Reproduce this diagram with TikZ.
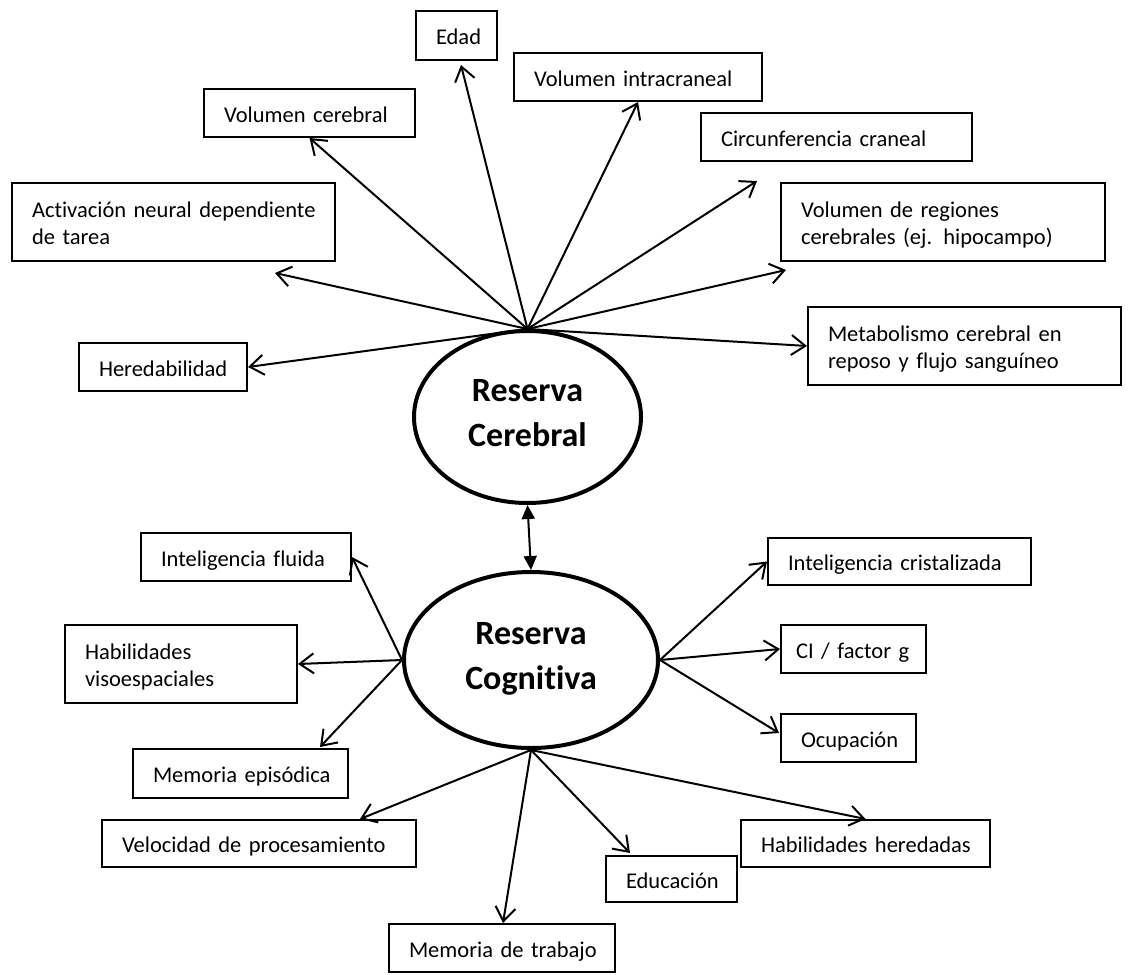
\documentclass[tikz,border=0pt]{standalone}
\usepackage{fontspec}
\setmainfont{Carlito}[Ligatures=NoCommon, WordSpace=0.7]
\usetikzlibrary{arrows.meta,shapes.geometric}
% one unbreakable line of box text
\newcommand\boxline[1]{\mbox{#1}}
\begin{document}
\begin{tikzpicture}[x=1pt,y=-1pt,
  box/.style={draw, rectangle, line width=2pt, inner xsep=20pt, inner ysep=0pt,
    align=left, font=\fontsize{22.5}{27.5}\selectfont,
    execute at begin node={\rule{0pt}{24pt}},
    execute at end node={\rule[-6pt]{0pt}{6pt}}},
  reserva/.style={draw, ellipse, line width=4pt, inner sep=0pt, align=center,
    font=\fontsize{34}{45}\selectfont\bfseries,
    execute at begin node={\rule{0pt}{34pt}},
    execute at end node={\rule[-9pt]{0pt}{9pt}}},
  spoke/.style={line width=2pt, -{Straight Barb[length=14pt,width=20pt]}},
  link/.style={line width=2pt,
    {Triangle[length=14pt,width=13pt]}-{Triangle[length=14pt,width=13pt]}}
]
\fill[white] (0,0) rectangle (1129,974);
\useasboundingbox (0,0) rectangle (1129,974);

% central constructs
\node[reserva, minimum width=227pt, minimum height=172pt] (rc) at (527.5,417) {Reserva\\Cerebral};
\node[reserva, minimum width=254pt, minimum height=176pt] (rk) at (531,660)   {Reserva\\Cognitiva};

% brain reserve measures
\node[box, minimum width=81pt,  minimum height=49pt, text width=41pt]  (edad)  at (456.5,35.5) {\boxline{Edad}};
\node[box, minimum width=248pt, minimum height=48pt, text width=208pt] (vint)  at (638,77)     {\boxline{Volumen intracraneal}};
\node[box, minimum width=271pt, minimum height=48pt, text width=231pt] (circ)  at (836.5,137)  {\boxline{Circunferencia craneal}};
\node[box, minimum width=211pt, minimum height=48pt, text width=171pt] (vcer)  at (309.5,113)  {\boxline{Volumen cerebral}};
\node[box, minimum width=323pt, minimum height=78pt, text width=283pt] (activ) at (173.5,222)  {\boxline{Activación neural dependiente}\\\boxline{de tarea}};
\node[box, minimum width=168pt, minimum height=48pt, text width=128pt] (hered) at (163,367)    {\boxline{Heredabilidad}};
\node[box, minimum width=324pt, minimum height=78pt, text width=284pt] (regio) at (943,222)    {\boxline{Volumen de regiones}\\\boxline{cerebrales (ej. hipocampo)}};
\node[box, minimum width=313pt, minimum height=78pt, text width=273pt] (metab) at (964.5,346)  {\boxline{Metabolismo cerebral en}\\\boxline{reposo y flujo sanguíneo}};

% cognitive reserve measures
\node[box, minimum width=210pt, minimum height=48pt, text width=170pt] (fluid) at (246,557)     {\boxline{Inteligencia fluida}};
\node[box, minimum width=232pt, minimum height=78pt, text width=192pt] (visuo) at (181,664)     {\boxline{Habilidades}\\\boxline{visoespaciales}};
\node[box, minimum width=215pt, minimum height=49pt, text width=175pt] (episo) at (240.5,773.5) {\boxline{Memoria episódica}};
\node[box, minimum width=314pt, minimum height=47pt, text width=274pt] (veloc) at (259,843.5)   {\boxline{Velocidad de procesamiento}};
\node[box, minimum width=226pt, minimum height=48pt, text width=186pt] (traba) at (502,948)     {\boxline{Memoria de trabajo}};
\node[box, minimum width=131pt, minimum height=46pt, text width=91pt]  (educa) at (671.5,879)   {\boxline{Educación}};
\node[box, minimum width=249pt, minimum height=47pt, text width=209pt] (habhe) at (865.5,843.5) {\boxline{Habilidades heredadas}};
\node[box, minimum width=263pt, minimum height=47pt, text width=223pt] (crist) at (899.5,561.5) {\boxline{Inteligencia cristalizada}};
\node[box, minimum width=145pt, minimum height=48pt, inner xsep=15pt, text width=115pt] (cifac) at (853.5,649) {\boxline{CI / factor g}};
\node[box, minimum width=135pt, minimum height=48pt, text width=95pt]  (ocupa) at (848.5,738)   {\boxline{Ocupación}};

% free arrow ends
\coordinate (tAct)  at (275,273);
\coordinate (tEdad) at (461,65);
\coordinate (tCirc) at (757,181);
\coordinate (tReg)  at (786,270);
\coordinate (tEpi)  at (320,747);
\coordinate (tVel)  at (360,819);
\coordinate (tTra)  at (503,923);
\coordinate (tEdu)  at (630,853);
\coordinate (tOcu)  at (779,733);

% spokes of Reserva Cerebral
\draw[spoke] (rc.north) -- (hered.east);
\draw[spoke] (rc.north) -- (tAct);
\draw[spoke] (rc.north) -- (vcer.south);
\draw[spoke] (rc.north) -- (tEdad);
\draw[spoke] (rc.north) -- (vint.south);
\draw[spoke] (rc.north) -- (tCirc);
\draw[spoke] (rc.north) -- (tReg);
\draw[spoke] (rc.north) -- (metab.west);

% spokes of Reserva Cognitiva
\draw[spoke] (rk.west) -- (fluid.east);
\draw[spoke] (rk.west) -- (visuo.east);
\draw[spoke] (rk.west) -- (tEpi);
\draw[spoke] (rk.south) -- (tVel);
\draw[spoke] (rk.south) -- (tTra);
\draw[spoke] (rk.south) -- (tEdu);
\draw[spoke] (rk.south) -- (habhe.north);
\draw[spoke] (rk.east) -- (crist.west);
\draw[spoke] (rk.east) -- (cifac.west);
\draw[spoke] (rk.east) -- (tOcu);

% link between the two reserves
\draw[link] (rc.south) -- (rk.north);
\end{tikzpicture}
\end{document}
